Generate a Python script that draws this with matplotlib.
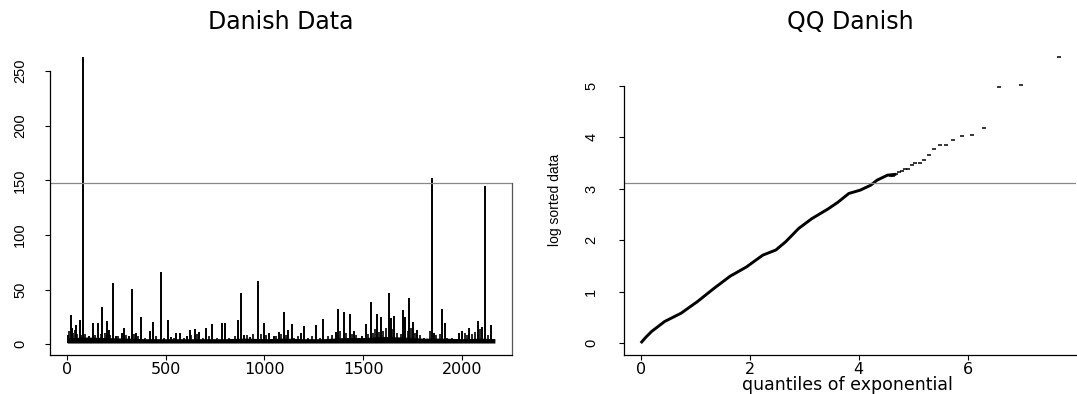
import numpy as np
import matplotlib
matplotlib.use("Agg")
import matplotlib.pyplot as plt

# ---------------- data ----------------
N_OBS = 2167

# Danish fire losses: visible spikes (observation index, loss in million DKK)
spike_idx = [3, 19, 27, 46, 64, 83, 111, 132, 159, 179, 201, 213, 231, 247, 277,
             289, 314, 329, 348, 373, 419, 436, 476, 510, 525, 551, 573, 610, 623,
             649, 669, 703, 733, 787, 799, 868, 880, 897, 926, 966, 998, 1024,
             1049, 1072, 1097, 1119, 1137, 1183, 1201, 1259, 1297, 1362, 1374,
             1404, 1433, 1451, 1495, 1516, 1538, 1572, 1589, 1630, 1640, 1657,
             1703, 1713, 1732, 1751, 1771, 1848, 1857, 1901, 1913, 1985, 2002,
             2036, 2079, 2101, 2116, 2147, 2160]
spike_val = [8.5, 26.4, 14.5, 17.3, 21.8, 263.3, 7.0, 19.1, 19.4, 33.6, 21.2, 13.0,
             56.0, 7.6, 10.0, 14.5, 7.0, 50.1, 10.6, 24.5, 12.0, 20.0, 65.7, 22.0,
             6.4, 10.0, 10.0, 7.0, 13.0, 13.6, 11.5, 14.5, 18.5, 19.1, 19.1, 22.0,
             46.7, 8.5, 6.4, 57.4, 19.1, 10.0, 7.0, 11.5, 29.0, 13.0, 18.2, 10.0,
             17.0, 17.6, 23.0, 11.5, 32.0, 29.4, 27.6, 12.4, 7.9, 18.2, 38.2, 27.3,
             24.8, 47.0, 24.2, 25.8, 31.0, 24.5, 41.8, 20.6, 13.0, 152.4, 10.0,
             32.0, 19.0, 10.0, 12.4, 15.2, 21.2, 15.5, 144.7, 17.6, 4.5]

# smaller losses sticking out of the dense band
small_idx = [8, 30, 38, 52, 70, 90, 120, 140, 170, 190, 220, 260, 300, 340, 360,
             395, 450, 490, 540, 590, 630, 660, 690, 720, 760, 820, 850, 910, 940,
             980, 1010, 1060, 1085, 1110, 1150, 1170, 1220, 1240, 1280, 1320, 1340,
             1385, 1415, 1445, 1465, 1480, 1525, 1550, 1560, 1580, 1600, 1615, 1645,
             1670, 1690, 1725, 1740, 1760, 1790, 1810, 1840, 1870, 1890, 1925, 1950,
             2015, 2025, 2050, 2065, 2090, 2130]
small_val = [12, 10, 13, 9, 8, 9, 6, 8, 9, 10, 8, 7, 8, 9, 7, 6, 7, 6, 6, 6, 8, 9,
             6, 7, 6, 6, 7, 8, 9, 9, 8, 7, 9, 8, 6, 7, 6, 7, 6, 7, 8, 12, 10, 9, 8,
             6, 9, 10, 14, 11, 12, 15, 14, 10, 9, 12, 15, 10, 8, 6, 12, 8, 9, 6, 6,
             10, 8, 9, 11, 14, 8]

# upper edge of the dense band of small losses
band_idx = [1, 100, 200, 300, 400, 500, 600, 700, 800, 900, 1000, 1100, 1200,
            1300, 1400, 1500, 1600, 1700, 1800, 1900, 2000, 2100, 2167]
band_top = [6.0, 6.5, 6.0, 5.5, 5.0, 5.0, 5.0, 5.0, 5.0, 5.5, 5.0, 5.5, 5.0,
            5.0, 6.0, 6.0, 7.0, 6.5, 5.5, 5.5, 5.0, 5.5, 5.0]

# QQ plot: dense body of the curve (exponential quantile, log loss)
qq_body_x = [0.0005, 0.10, 0.20, 0.44, 0.74, 1.04, 1.34, 1.64, 1.94, 2.24, 2.48,
             2.66, 2.90, 3.14, 3.44, 3.62, 3.82, 4.03, 4.22, 4.34, 4.53, 4.69]
qq_body_y = [0.0, 0.12, 0.226, 0.42, 0.58, 0.806, 1.06, 1.30, 1.48, 1.71, 1.81,
             1.97, 2.23, 2.42, 2.61, 2.74, 2.91, 2.975, 3.07, 3.17, 3.266, 3.283]
# QQ plot: largest observations (rank 1 = largest), log loss
qq_tail_rank = list(range(1, 23))
qq_tail_log = [5.573, 5.026, 4.974, 4.185, 4.050, 4.029, 3.942, 3.858, 3.858,
               3.769, 3.654, 3.558, 3.500, 3.494, 3.462, 3.391, 3.385, 3.346,
               3.321, 3.283, 3.257, 3.244]

h_line_left = 147.4
h_line_right = 3.11

left_xticks = [0, 500, 1000, 1500, 2000]
left_yticks = [0, 50, 100, 150, 200, 250]
right_xticks = [0, 2, 4, 6]
right_yticks = [0, 1, 2, 3, 4, 5]

# ---------------- figure ----------------
plt.rcParams['font.family'] = ['DejaVu Sans']
W, H = 1077, 394
fig = plt.figure(figsize=(W / 100, H / 100), dpi=100)

def px_axes(x0, x1, ytop, ybot):
    return fig.add_axes([x0 / W, 1 - ybot / H, (x1 - x0) / W, (ybot - ytop) / H])

axL = px_axes(50.1, 512, 45.1, 354.5)
axR = px_axes(624, 1076, 45.1, 354.5)

YFONT = dict(family=['Liberation Sans', 'DejaVu Sans'], size=10.5)

def style_axes(ax, xticks, yticks, ylim, ytop_tick, ypad):
    ax.set_facecolor('none')
    ax.spines['top'].set_visible(False)
    ax.spines['right'].set_visible(False)
    ax.spines['left'].set_bounds(ylim[0], ytop_tick)
    for s in ('left', 'bottom'):
        ax.spines[s].set_linewidth(0.9)
        ax.spines[s].set_color('black')
    ax.set_xticks(xticks)
    ax.set_yticks(yticks)
    ax.tick_params(axis='both', direction='out', length=3.6, width=0.8, color='black')
    ax.tick_params(axis='x', pad=1.5, labelsize=11.5)
    ax.tick_params(axis='y', pad=ypad, labelrotation=90)
    for lab in ax.get_yticklabels():
        lab.set_fontfamily(YFONT['family'])
        lab.set_fontsize(YFONT['size'])
        lab.set_va('center')

# ---- left panel: time series ----
axL.fill_between(band_idx, 1.0, band_top, color='black', lw=0)
axL.vlines(small_idx, 1.0, small_val, color='black', lw=1.2)
axL.vlines(spike_idx, 1.0, spike_val, color='black', lw=1.4)
xlimL = (1 - 0.04 * (N_OBS - 1), N_OBS + 0.04 * (N_OBS - 1))
ylimL = (1 - 0.04 * 262.25, 263.25 + 0.04 * 262.25)
axL.set_xlim(xlimL)
axL.set_ylim(ylimL)
style_axes(axL, left_xticks, left_yticks, ylimL, 250, 13)
axL.plot([xlimL[1], xlimL[1]], [ylimL[0], h_line_left], color='#555555', lw=0.9,
         clip_on=False)
axL.axhline(h_line_left, color='#888888', lw=0.9)

# ---- right panel: QQ plot ----
tail_x = [np.log((N_OBS + 1) / k) for k in qq_tail_rank]
axR.plot(qq_body_x, qq_body_y, color='black', lw=2.1, solid_capstyle='butt')
axR.plot(tail_x, qq_tail_log, ls='none', marker='_', ms=2.5, mew=1.1, color='black')
xmaxR = np.log(N_OBS + 1)
xlimR = (-0.04 * xmaxR, xmaxR * 1.04)
ylimR = (-0.04 * 5.573, 5.573 * 1.04)
axR.set_xlim(xlimR)
axR.set_ylim(ylimR)
style_axes(axR, right_xticks, right_yticks, ylimR, 5, 15)
axR.axhline(h_line_right, color='#888888', lw=0.9)
axR.set_ylabel('log sorted data', fontfamily=YFONT['family'], fontsize=10)
axR.yaxis.set_label_coords((562 - 624) / 452, 0.5)

fig.text(847 / W, 1 - 385 / H, 'quantiles of exponential', ha='center', va='center',
         fontsize=12.5)

# titles
fig.text(281 / W, 1 - 29.3 / H, 'Danish Data', ha='center', va='baseline', fontsize=17)
fig.text(850 / W, 1 - 29.3 / H, 'QQ Danish', ha='center', va='baseline', fontsize=17)

fig.savefig('out.png', dpi=100, facecolor='white')
